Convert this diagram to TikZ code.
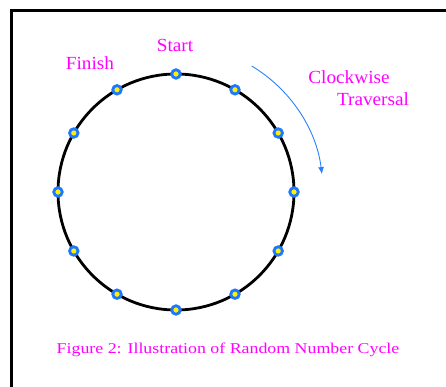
\documentclass[tikz,border=0pt]{standalone}
\usepackage{fontspec}
\setmainfont{Liberation Serif}
\usetikzlibrary{arrows.meta,calc}
\definecolor{mag}{RGB}{255,0,255}
\definecolor{dotblue}{RGB}{30,120,255}
\definecolor{arrblue}{RGB}{40,130,255}
\definecolor{dotyellow}{RGB}{255,240,0}
\begin{document}
\begin{tikzpicture}[x=1pt,y=1pt,
  dot/.style={circle,draw=dotblue,fill=dotyellow,line width=2.8pt,inner sep=0pt,minimum size=8.5pt},
  lbl/.style={text=mag,font=\fontsize{18.5}{20}\selectfont,inner sep=0pt,xscale=1.04},
  captxt/.style={text=mag,font=\fontsize{15}{17}\selectfont,inner sep=0pt,xscale=1.19},
  trav/.style={draw=arrblue,line width=0.9pt,-{Latex[length=7pt,width=6pt]}}]
\useasboundingbox (0,0) rectangle (446,387);
\draw[line width=3pt] (11,0) -- (11,376) -- (446,376);
\coordinate (c) at (176,195);
\node[circle,draw,line width=2.8pt,minimum size=236pt,inner sep=0pt] (cyc) at (c) {};
\foreach \i in {0,...,11}{
  \node[dot] (p\i) at ($(c)+(90-30*\i:118)$) {};
}
\node[lbl] (start) at (175,342) {Start};
\node[lbl] (finish) at (90,324) {Finish};
\node[lbl] (cw) at (349,310) {Clockwise};
\node[lbl] (tr) at (373,288) {Traversal};
\draw[trav] ([shift={(59:147)}]c) arc[start angle=59,end angle=7,radius=147];
\node[captxt] (caption) at (228,37) {Figure 2: Illustration of Random Number Cycle};
\end{tikzpicture}
\end{document}
